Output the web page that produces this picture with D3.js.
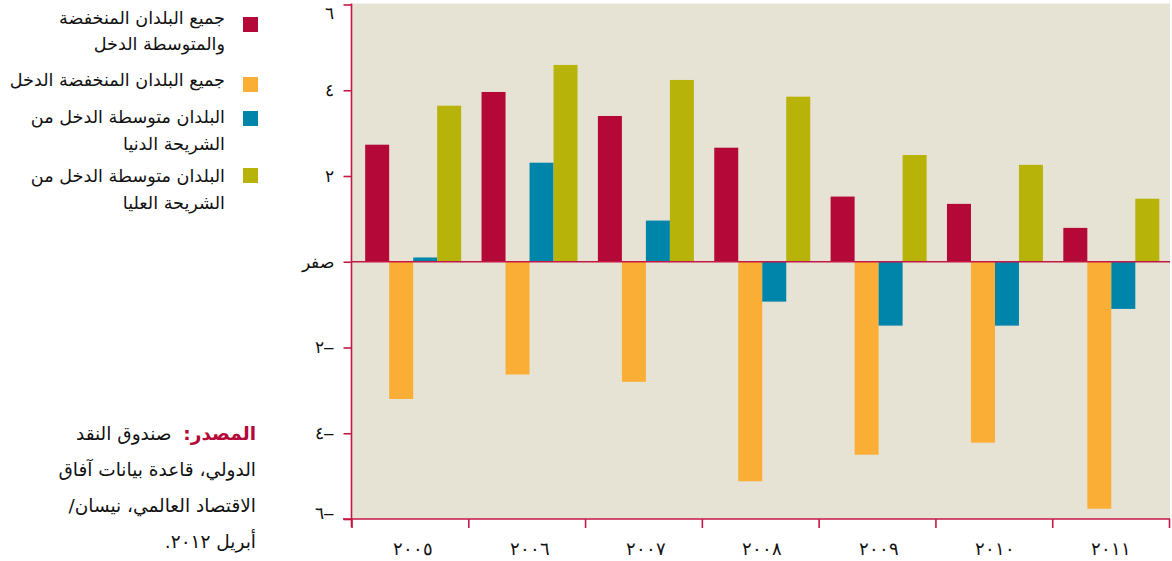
<!DOCTYPE html>
<html>
<head>
<meta charset="utf-8">
<script src="https://cdn.jsdelivr.net/npm/d3@7/dist/d3.min.js"></script>
<style>
  body { margin: 0; background: #ffffff; }
  svg { display: block; font-family: "DejaVu Sans", sans-serif; }
</style>
</head>
<body>
<svg id="chart" width="1172" height="561"></svg>
<script>
// Years on the horizontal axis
const years = ["2005", "2006", "2007", "2008", "2009", "2010", "2011"];

// Series (legend order)
const seriesKeys = ["allLowMiddle", "lowIncome", "lowerMiddle", "upperMiddle"];
const seriesLabels = [
  ["جميع البلدان المنخفضة", "والمتوسطة الدخل"],
  ["جميع البلدان المنخفضة الدخل"],
  ["البلدان متوسطة الدخل من", "الشريحة الدنيا"],
  ["البلدان متوسطة الدخل من", "الشريحة العليا"]
];
const seriesColors = ["#b30838", "#fbae35", "#0085aa", "#b7b309"];

// Values per year, one array per series
const allLowMiddle = [2.73, 3.96, 3.40, 2.66, 1.52, 1.35, 0.79];
const lowIncome    = [-3.20, -2.63, -2.80, -5.12, -4.50, -4.22, -5.76];
const lowerMiddle  = [0.10, 2.31, 0.96, -0.93, -1.49, -1.49, -1.10];
const upperMiddle  = [3.64, 4.59, 4.24, 3.85, 2.49, 2.26, 1.47];

// Vertical axis ticks
const yTicks = [-6, -4, -2, 0, 2, 4, 6];
const zeroLabel = "صفر";

// Source note
const sourceHead = "المصدر:";
const sourceLines = [
  "صندوق النقد",
  "الدولي، قاعدة بيانات آفاق",
  "الاقتصاد العالمي، نيسان/",
  "أبريل ٢٠١٢."
];

const seriesValues = [allLowMiddle, lowIncome, lowerMiddle, upperMiddle];
const rows = years.map((yr, i) => {
  const r = { year: yr };
  seriesKeys.forEach((k, j) => { r[k] = seriesValues[j][i]; });
  return r;
});

const arabicDigits = "٠١٢٣٤٥٦٧٨٩";
const toArabic = s => String(s).replace(/\d/g, d => arabicDigits[+d]);

const axisColor = "#c41747";
const svg = d3.select("#chart");

const plot = { left: 351.5, right: 1170, top: 4.5, bottom: 519 };

const y = d3.scaleLinear().domain([-6, 6]).range([plot.bottom, plot.top]);
const xGroup = d3.scaleBand().domain(years).range([355, 1169.5])
  .paddingInner(0.175).paddingOuter(0.0875);
const xBar = d3.scaleBand().domain(seriesKeys).range([0, xGroup.bandwidth()]);
const xEdge = d3.scaleLinear().domain([0, years.length]).range([plot.left, 1169]);
const color = d3.scaleOrdinal().domain(seriesKeys).range(seriesColors);

// Plot background
svg.append("rect")
  .attr("x", plot.left).attr("y", plot.top - 1)
  .attr("width", plot.right - plot.left).attr("height", plot.bottom - plot.top + 1)
  .attr("fill", "#e6e3d4");

// Bars
svg.append("g").selectAll("g")
  .data(rows)
  .join("g")
  .attr("transform", d => `translate(${xGroup(d.year)},0)`)
  .selectAll("rect")
  .data(d => seriesKeys.map(k => ({ key: k, value: d[k] })))
  .join("rect")
  .attr("x", d => xBar(d.key))
  .attr("width", xBar.bandwidth())
  .attr("y", d => Math.min(y(d.value), y(0)))
  .attr("height", d => Math.abs(y(d.value) - y(0)))
  .attr("fill", d => color(d.key));

// Zero line
svg.append("line")
  .attr("x1", plot.left).attr("x2", plot.right)
  .attr("y1", y(0)).attr("y2", y(0))
  .attr("stroke", axisColor).attr("stroke-width", 1.6);

// Vertical axis
const yAxis = svg.append("g")
  .attr("transform", `translate(${plot.left},0)`)
  .call(d3.axisLeft(y).tickValues(yTicks).tickSize(8).tickPadding(10)
    .tickFormat(v => v === 0 ? zeroLabel : (v < 0 ? toArabic(-v) + "–" : toArabic(v))));
yAxis.select(".domain").remove();
yAxis.selectAll(".tick line").attr("stroke", axisColor).attr("stroke-width", 1.6);
yAxis.selectAll(".tick text")
  .attr("fill", "#111").attr("font-size", 17)
  .attr("dy", v => v === 6 ? "0.85em" : (v === -6 ? "-0.05em" : "0.32em"));
svg.append("line")
  .attr("x1", plot.left).attr("x2", plot.left)
  .attr("y1", plot.top - 1).attr("y2", plot.bottom + 8)
  .attr("stroke", axisColor).attr("stroke-width", 1.6);

// Horizontal axis: division ticks between years
const xAxis = svg.append("g")
  .attr("transform", `translate(0,${plot.bottom})`)
  .call(d3.axisBottom(xEdge).tickValues(d3.range(years.length + 1)).tickSize(9).tickFormat(""));
xAxis.select(".domain").remove();
xAxis.selectAll(".tick line").attr("stroke", axisColor).attr("stroke-width", 1.6);
svg.append("line")
  .attr("x1", 343).attr("x2", plot.right)
  .attr("y1", plot.bottom).attr("y2", plot.bottom)
  .attr("stroke", axisColor).attr("stroke-width", 1.6);

// Year labels centred under each group
const xLabels = svg.append("g")
  .attr("transform", `translate(0,${plot.bottom})`)
  .call(d3.axisBottom(xGroup).tickSize(0).tickPadding(23).tickFormat(toArabic));
xLabels.select(".domain").remove();
xLabels.selectAll(".tick text")
  .attr("fill", "#111").attr("font-size", 18).attr("letter-spacing", 1.5);

// Legend
const legendItemTop = [17, 77, 111, 168];
const legendLineY = [[24, 50], [86], [123, 150], [182, 209]];
const legend = svg.append("g");
seriesKeys.forEach((k, i) => {
  legend.append("rect")
    .attr("x", 243).attr("y", legendItemTop[i])
    .attr("width", 15).attr("height", 15)
    .attr("fill", color(k));
  seriesLabels[i].forEach((line, j) => {
    legend.append("text")
      .attr("x", 225).attr("y", legendLineY[i][j])
      .attr("text-anchor", "end")
      .attr("font-size", 17.6).attr("fill", "#111")
      .text(line);
  });
});

// Source note
const source = svg.append("g");
const srcBase = [440, 476, 512, 548];
const first = source.append("text")
  .attr("x", 256).attr("y", srcBase[0])
  .attr("direction", "rtl").attr("text-anchor", "start")
  .attr("font-size", 18.5).attr("fill", "#111");
first.append("tspan").attr("font-weight", "bold").attr("fill", "#b30838").text(sourceHead);
first.append("tspan").text("\u00a0\u00a0" + sourceLines[0]);
sourceLines.slice(1).forEach((line, i) => {
  source.append("text")
    .attr("x", 256).attr("y", srcBase[i + 1])
    .attr("direction", "rtl").attr("text-anchor", "start")
    .attr("font-size", 18.5).attr("fill", "#111")
    .text(line);
});
</script>
</body>
</html>
